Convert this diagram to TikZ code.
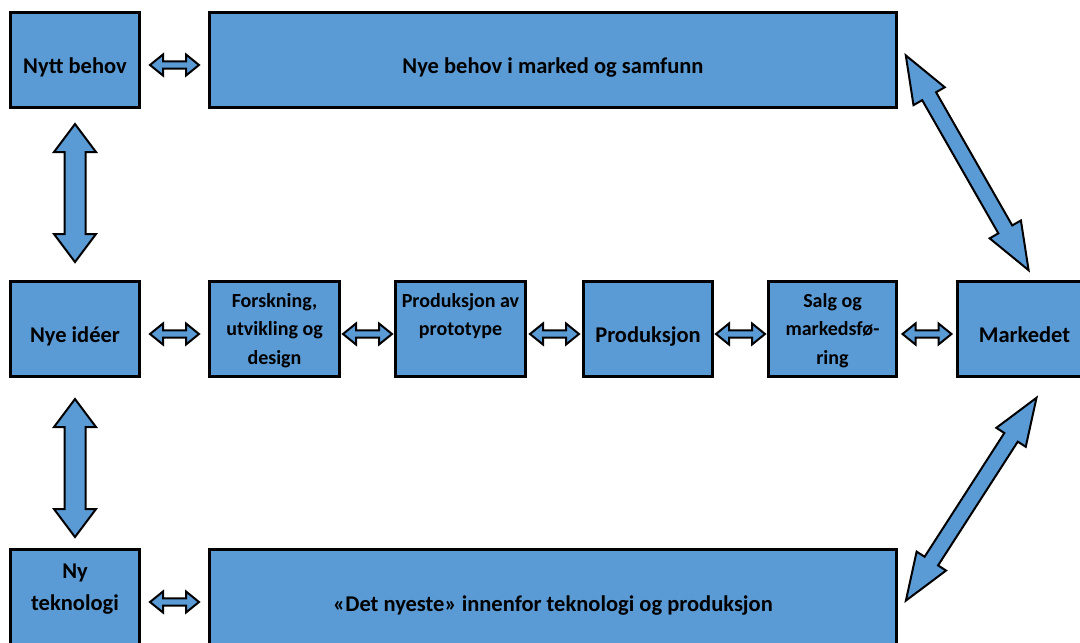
\documentclass[tikz,border=0pt]{standalone}
\usepackage{fontspec}
\setmainfont{Carlito}
\usetikzlibrary{calc}
\definecolor{boxblue}{RGB}{91,155,213}
\newcommand\boxtext[2]{\raisebox{#1}[0pt][0pt]{\begin{tabular}[t]{@{}c@{}}#2\end{tabular}}}
% double block arrow between two coordinates: #1 start, #2 end, #3 shaft half width, #4 head half width, #5 head length
\newcommand\dblarrow[5]{%
  \coordinate (pA) at #1;
  \coordinate (pB) at #2;
  \coordinate (h1) at ($(pA)!#5!(pB)$);
  \coordinate (h2) at ($(pB)!#5!(pA)$);
  \draw[blockarrow] (pA) -- ($(h1)!#4!90:(pB)$) -- ($(h1)!#3!90:(pB)$)
    -- ($(h2)!#3!-90:(pA)$) -- ($(h2)!#4!-90:(pA)$) -- (pB)
    -- ($(h2)!#4!90:(pA)$) -- ($(h2)!#3!90:(pA)$)
    -- ($(h1)!#3!-90:(pB)$) -- ($(h1)!#4!-90:(pB)$) -- cycle;}
\newcommand\harrow[2]{%
  \coordinate (m) at ($(#1.east)!0.5!(#2.west)+(0,5)$);
  \dblarrow{($(m)+(-24.5,0)$)}{($(m)+(24.5,0)$)}{3.7pt}{10.5pt}{13pt}}
\begin{document}
\begin{tikzpicture}[x=1pt,y=-1pt,
  blockbox/.style={draw=black, line width=2.8pt, fill=boxblue, inner sep=0pt,
    minimum height=95.2pt, text=black},
  bigtext/.style={font=\fontsize{22.5}{28.5}\selectfont\bfseries},
  smalltext/.style={font=\fontsize{20}{28.5}\selectfont\bfseries},
  blockarrow/.style={draw=black, line width=2pt, fill=boxblue, line join=miter}]
\fill[white] (0,0) rectangle (1080,643);
\useasboundingbox (0,0) rectangle (1080,643);

% top row
\node[blockbox, bigtext, minimum width=129.2pt] (nb) at (75,60) {\boxtext{-13pt}{Nytt behov}};
\node[blockbox, bigtext, minimum width=687.2pt] (nbm) at (553,60) {\boxtext{-13pt}{Nye behov i marked og samfunn}};

% middle row
\node[blockbox, bigtext, minimum width=129.2pt] (ni) at (75,329) {\boxtext{-13pt}{Nye idéer}};
\node[blockbox, smalltext, minimum width=130.2pt] (fu) at (274.5,329) {\boxtext{22pt}{Forskning,\\utvikling og\\design}};
\node[blockbox, smalltext, minimum width=130.2pt] (pp) at (460.5,329) {\boxtext{22pt}{Produksjon av\\prototype}};
\node[blockbox, bigtext, minimum width=129.2pt] (pr) at (648,329) {\boxtext{-13pt}{Produksjon}};
\node[blockbox, smalltext, minimum width=128.2pt] (sm) at (832.5,329) {\boxtext{22pt}{Salg og\\markedsfø-\\ring}};
\node[blockbox, bigtext, minimum width=134.2pt] (ma) at (1024.5,329) {\boxtext{-13pt}{Markedet}};

% bottom row
\node[blockbox, font=\fontsize{22.5}{32}\selectfont\bfseries, minimum width=129.2pt] (nt) at (75,597) {\boxtext{19pt}{Ny\\teknologi}};
\node[blockbox, bigtext, minimum width=687.2pt] (dn) at (553,597) {\boxtext{-14pt}{«Det nyeste» innenfor teknologi og produksjon}};

% horizontal arrows
\harrow{nb}{nbm}
\harrow{ni}{fu}
\harrow{fu}{pp}
\harrow{pp}{pr}
\harrow{pr}{sm}
\harrow{sm}{ma}
\harrow{nt}{dn}

% vertical arrows
\dblarrow{($(nb.south)+(0,15)$)}{($(ni.north)+(0,-18)$)}{10.5pt}{21pt}{28pt}
\dblarrow{($(ni.south)+(0,21)$)}{($(nt.north)+(0,-11)$)}{10.5pt}{21pt}{28pt}

% diagonal arrows
\dblarrow{($(nbm.east)+(7.8,-4.6)$)}{($(ma.north)+(4.1,-9.8)$)}{8pt}{18pt}{47pt}
\dblarrow{($(ma.south)+(12,19.8)$)}{($(dn.east)+(7.9,3.6)$)}{8pt}{17.5pt}{47pt}
\end{tikzpicture}
\end{document}
